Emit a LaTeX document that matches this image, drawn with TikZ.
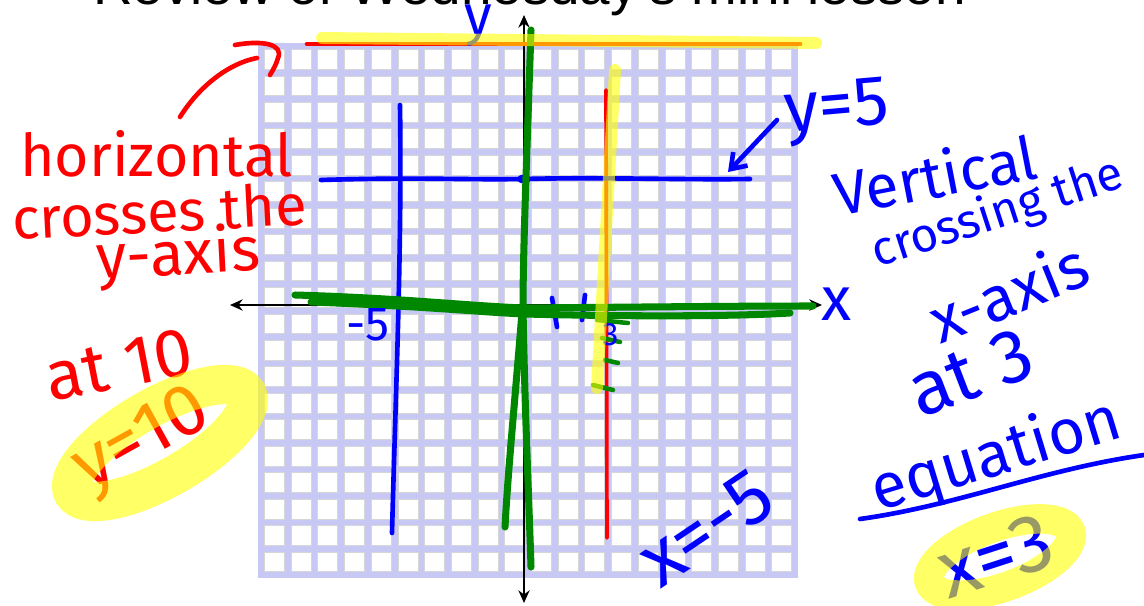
\documentclass[tikz,border=0pt]{standalone}
\usepackage{fontspec}
\setmainfont{Liberation Sans}
\newfontfamily\handfont{Fira Sans}
\usetikzlibrary{arrows.meta}

\definecolor{lavender}{RGB}{200,200,245}
\definecolor{cellline}{RGB}{215,215,215}
\definecolor{penred}{RGB}{255,0,0}
\definecolor{penblue}{RGB}{0,0,255}
\definecolor{pengreen}{RGB}{0,135,0}
\definecolor{hiyellow}{RGB}{255,255,0}

\tikzset{
  cell/.style={fill=white, draw=cellline, line width=0.6pt},
  axis/.style={line width=2.1pt, {Stealth[length=9pt,width=8pt]}-{Stealth[length=9pt,width=8pt]}},
  redpen/.style={draw=penred, line width=3.3pt, line cap=round, line join=round},
  bluepen/.style={draw=penblue, line width=3.3pt, line cap=round, line join=round},
  greenpen/.style={draw=pengreen, line width=5pt, line cap=round, line join=round},
  hilite/.style={draw=hiyellow, opacity=0.6, line width=#1, line cap=round},
  hand/.style={inner sep=0pt, anchor=base west, font=\handfont\fontsize{#1}{#1}\selectfont},
  title/.style={inner sep=0pt, anchor=base west, font=\fontsize{39pt}{39pt}\selectfont}
}

\begin{document}
\begin{tikzpicture}[x=0.025cm, y=-0.025cm]
  \useasboundingbox (0,0) rectangle (1144,605);
  \clip (0,0) rectangle (1144,605);

  % title, cut off at the top edge
  \node[title] (heading) at (93,4) {Review of Wednesday's mini lesson};

  % graph paper, 20 x 20
  \fill[lavender] (258,43) rectangle (798,578);
  \foreach \i in {0,...,19}
    \foreach \j in {0,...,19}
      \filldraw[cell] ({264.5+26.7*\i},{49.5+26.45*\j}) rectangle ++(20,19.8);

  % axes
  \coordinate (xl) at (230,305);
  \coordinate (xr) at (822,305);
  \coordinate (yt) at (524,15);
  \coordinate (yb) at (524,603);
  \draw[axis] (xl) -- (xr);
  \draw[axis] (yb) -- (yt);

  % y = 10 and x = 3
  \draw[redpen] (307,44) -- (800,44);
  \draw[redpen, line width=2.6pt] (606,90) -- (607,538);
  \draw[redpen] (180,117) .. controls (200,85) and (230,63) .. (257,58);
  \draw[redpen] (235,45) .. controls (262,40) and (284,44) .. (278,58)
                .. controls (276,65) and (273,70) .. (270,75);

  % y = 5 and x = -5
  \draw[bluepen] (321,180) .. controls (420,177) and (460,180) .. (524,179)
                 .. controls (600,177) and (680,180) .. (750,179);
  \fill[penblue] (524,179) ellipse (7 and 4.5);
  \draw[bluepen] (400,105) .. controls (402,250) and (396,380) .. (392,533);
  \coordinate (tipfive) at (728,172);
  \coordinate (tailfive) at (777,120);
  \draw[bluepen, -{Straight Barb[length=10pt,width=14pt]}] (tailfive) -- (tipfive);
  \draw[bluepen] (552,298) -- (557,327);
  \draw[bluepen] (585,295) -- (582,320);
  \draw[bluepen] (860,519) .. controls (960,505) and (1040,470) .. (1144,455);

  % green retrace of the axes
  \draw[greenpen] (531,30) .. controls (527,150) and (523,250) .. (523,308)
                  .. controls (525,420) and (529,500) .. (531,567);
  \draw[greenpen] (522,312) .. controls (515,400) and (508,470) .. (505,527);
  \draw[greenpen] (295,295) .. controls (400,298) and (470,306) .. (524,308)
                  .. controls (650,307) and (740,306) .. (813,306);
  \draw[greenpen] (311,302) .. controls (420,306) and (480,312) .. (524,314)
                  .. controls (650,317) and (740,316) .. (790,313);
  \draw[greenpen, line width=3.2pt] (597,320) -- (628,323);
  \draw[greenpen, line width=3.2pt] (602,338) -- (620,342);
  \draw[greenpen, line width=3.2pt] (605,360) -- (618,363);
  \draw[greenpen, line width=3.2pt] (593,385) -- (613,390);

  % red notes
  \node[hand=42pt, text=penred] (horiz) at (20,176) {horizontal};
  \node[hand=41pt, text=penred, rotate=3] (crosses) at (13,240) {crosses the};
  \node[hand=44pt, text=penred, rotate=3] (yaxis) at (97,279) {y-axis};
  \node[hand=49pt, text=penred, rotate=11] (atten) at (50,402) {at 10};
  \node[hand=52pt, text=penred, rotate=29] (yten) at (88,492) {y=10};

  % blue notes
  \node[hand=40pt, text=penblue] (ylab) at (464,34) {y};
  \node[hand=44pt, text=penblue] (xlab) at (821,320) {x};
  \node[hand=34pt, text=penblue] (minusfive) at (346,340) {-5};
  \node[hand=23pt, text=penblue] (three) at (602,345) {3};
  \node[hand=50pt, text=penblue, rotate=5] (yfive) at (786,133) {y=5};
  \node[hand=43pt, text=penblue, rotate=11] (vert) at (838,217) {Vertical};
  \node[hand=34pt, text=penblue, rotate=18] (crossing) at (877,268) {crossing the};
  \node[hand=45pt, text=penblue, rotate=22] (xaxis) at (940,345) {x-axis};
  \node[hand=54pt, text=penblue, rotate=21] (atthree) at (920,419) {at 3};
  \node[hand=45pt, text=penblue, rotate=17] (equation) at (878,512) {equation};
  \node[hand=58pt, text=penblue, rotate=18] (xthree) at (948,600) {x=3};
  \node[hand=55pt, text=penblue, rotate=34] (xminus) at (660,590) {x=-5};

  % highlighter
  \draw[hilite=8.5pt] (322,38) -- (816,43);
  \draw[hilite=8.5pt] (615,70) -- (597,388);
  \draw[hilite=28pt, rotate around={30:(160,443)}] (160,443) ellipse (100 and 35);
  \draw[hilite=21pt, rotate around={20:(1000,557)}] (1000,557) ellipse (75 and 30);
\end{tikzpicture}
\end{document}
